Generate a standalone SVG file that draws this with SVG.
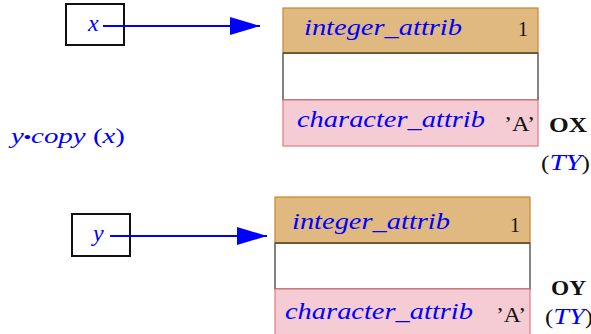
<svg xmlns="http://www.w3.org/2000/svg" width="591" height="334" viewBox="0 0 591 334">
  <defs>
    <marker id="head" viewBox="0 0 30 18" refX="30" refY="9" markerWidth="30" markerHeight="18" markerUnits="userSpaceOnUse" orient="auto">
      <path d="M0,0 L30,9 L0,18 Z" fill="#0000ff"/>
    </marker>
  </defs>
  <style>
    text { font-family: "Liberation Serif", "Times New Roman", serif; font-size: 21px; }
    .var { fill: #0000ff; font-style: italic; font-size: 24px; }
    .val { fill: #111; }
    .name { fill: #111; font-weight: bold; }
    .ref { fill: #fff; stroke: #111; stroke-width: 2; }
    .int { fill: #dfb97f; stroke: #c8862e; stroke-width: 1.2; }
    .mid { fill: #fff; stroke: #333; stroke-width: 1.2; }
    .chr { fill: #f5ccd3; stroke: #e07a88; stroke-width: 1.2; }
    .edge { stroke: #0000ff; stroke-width: 2.2; fill: none; marker-end: url(#head); }
  </style>

  <!-- reference boxes -->
  <g id="ref-x">
    <rect class="ref" x="66" y="4" width="58" height="41"/>
    <text class="var" x="88" y="31">x</text>
  </g>
  <g id="ref-y">
    <rect class="ref" x="72" y="214" width="58" height="42"/>
    <text class="var" x="93" y="241">y</text>
  </g>

  <!-- the call -->
  <g id="call">
    <text x="11" y="143" fill="#0000ff" font-size="24" textLength="114" lengthAdjust="spacingAndGlyphs"><tspan font-style="italic">y</tspan><tspan font-size="15" font-weight="bold" dy="-1">•</tspan><tspan font-style="italic" dy="1">copy</tspan> (<tspan font-style="italic">x</tspan>)</text>
  </g>

  <!-- object OX -->
  <g id="obj-ox">
    <rect class="mid" x="283" y="53" width="255" height="47"/>
    <rect class="int" x="283" y="8" width="255" height="45"/>
    <line x1="283" y1="53" x2="538" y2="53" stroke="#5a4424" stroke-width="1.4"/>
    <rect class="chr" x="283" y="100" width="255" height="46"/>
    <text class="var" x="304" y="35" textLength="158" lengthAdjust="spacingAndGlyphs">integer_attrib</text>
    <text class="val" x="518" y="36" textLength="10" lengthAdjust="spacingAndGlyphs">1</text>
    <text class="var" x="297" y="127" textLength="188" lengthAdjust="spacingAndGlyphs">character_attrib</text>
    <text class="val" x="504" y="131" textLength="31" lengthAdjust="spacingAndGlyphs">’A’</text>
    <text class="name" x="549" y="132" textLength="38" lengthAdjust="spacingAndGlyphs">OX</text>
    <text class="val" x="541" y="170" textLength="49" lengthAdjust="spacingAndGlyphs">(<tspan class="var" font-size="21">TY</tspan>)</text>
  </g>

  <!-- object OY -->
  <g id="obj-oy">
    <rect class="mid" x="275" y="243" width="255" height="46"/>
    <rect class="int" x="275" y="197" width="255" height="46"/>
    <line x1="275" y1="243" x2="530" y2="243" stroke="#5a4424" stroke-width="1.4"/>
    <rect class="chr" x="275" y="289" width="255" height="50"/>
    <text class="var" x="292" y="229" textLength="158" lengthAdjust="spacingAndGlyphs">integer_attrib</text>
    <text class="val" x="510" y="232" textLength="10" lengthAdjust="spacingAndGlyphs">1</text>
    <text class="var" x="285" y="319" textLength="188" lengthAdjust="spacingAndGlyphs">character_attrib</text>
    <text class="val" x="496" y="322" textLength="30" lengthAdjust="spacingAndGlyphs">’A’</text>
    <text class="name" x="551" y="295" textLength="35" lengthAdjust="spacingAndGlyphs">OY</text>
    <text class="val" x="545" y="324" textLength="48" lengthAdjust="spacingAndGlyphs">(<tspan class="var" font-size="21">TY</tspan>)</text>
  </g>

  <!-- references -->
  <g id="connectors">
    <line class="edge" x1="103" y1="26" x2="260" y2="26"/>
    <line class="edge" x1="110" y1="236" x2="267" y2="236"/>
  </g>
</svg>
